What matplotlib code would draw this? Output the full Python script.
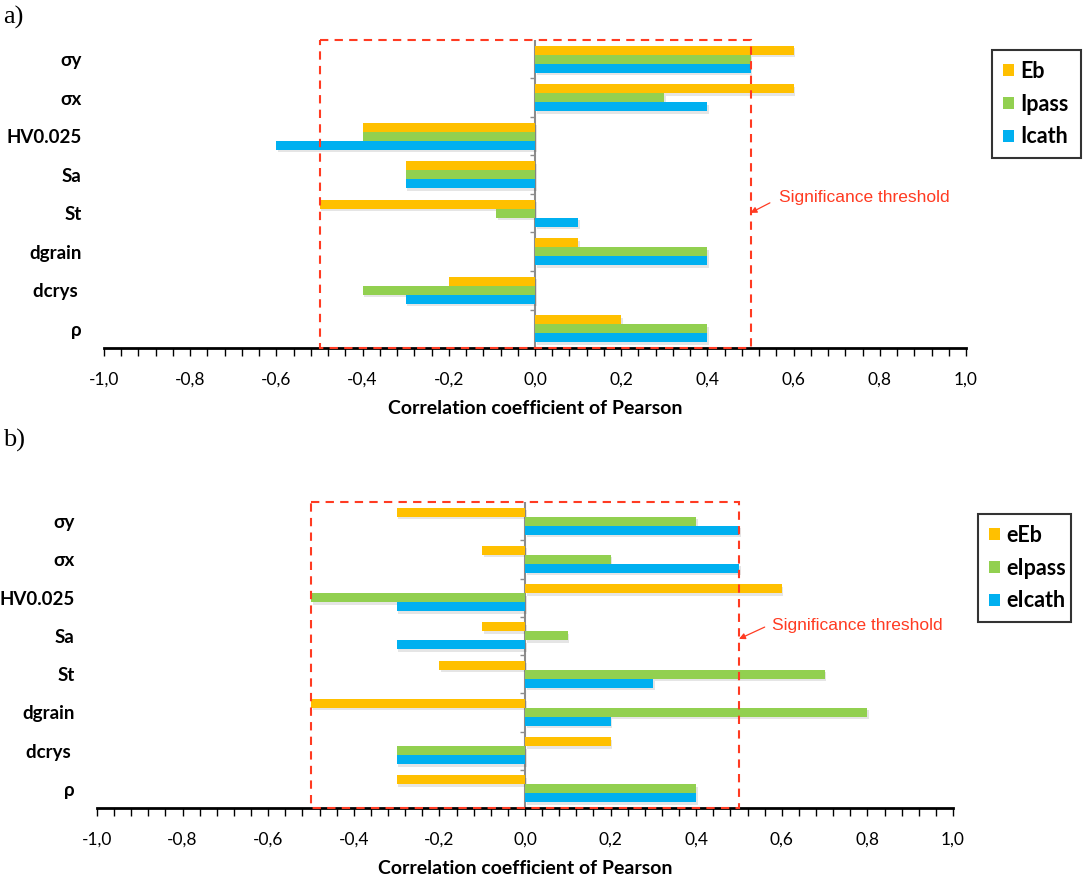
import numpy as np
import matplotlib
matplotlib.use("Agg")
import matplotlib.pyplot as plt
from matplotlib.patches import Rectangle, Patch
from matplotlib.ticker import MultipleLocator, FuncFormatter
import matplotlib.patheffects as pe

categories = ["σy", "σx", "HV0.025", "Sa", "St", "dgrain", "dcrys ", "ρ"]

# panel a)
eb = [0.6, 0.6, -0.4, -0.3, -0.5, 0.1, -0.2, 0.2]
ipass = [0.5, 0.3, -0.4, -0.3, -0.09, 0.4, -0.4, 0.4]
icath = [0.5, 0.4, -0.6, -0.3, 0.1, 0.4, -0.3, 0.4]
labels_a = ["Eb", "Ipass", "Icath"]

# panel b)
eeb = [-0.3, -0.1, 0.6, -0.1, -0.2, -0.5, 0.2, -0.3]
eipass = [0.4, 0.2, -0.5, 0.1, 0.7, 0.8, -0.3, 0.4]
eicath = [0.5, 0.5, -0.3, -0.3, 0.3, 0.2, -0.3, 0.4]
labels_b = ["eEb", "eIpass", "eIcath"]

threshold = 0.5
colors = ["#FFC000", "#92D050", "#00B0F0"]
red = "#FF3B22"

W, H = 1083, 883
fig = plt.figure(figsize=(W / 100, H / 100), dpi=100)


def px_axes(left, right, top, bottom):
    return fig.add_axes([left / W, 1 - bottom / H, (right - left) / W, (bottom - top) / H])


def draw_panel(ax, series, labels, legend_box, text_xy, tail_xy, tip_y):
    y = np.arange(len(categories))
    h = 0.235
    shadow = [pe.SimplePatchShadow(offset=(1.2, -1.8), alpha=0.15, shadow_rgbFace="#555555"),
              pe.Normal()]
    for i, (vals, col) in enumerate(zip(series, colors)):
        ax.barh(y + (i - 1) * h, vals, height=h, color=col,
                zorder=3, path_effects=shadow)

    ax.set_xlim(-1, 1)
    ax.set_ylim(len(categories) - 0.5, -0.5)
    ax.set_yticks(y)
    ax.set_yticklabels(categories, fontfamily="Lato", fontweight="bold", fontsize=13.5)
    ax.tick_params(axis="y", length=0, pad=16)

    ax.xaxis.set_major_locator(MultipleLocator(0.2))
    ax.xaxis.set_minor_locator(MultipleLocator(0.04))
    ax.xaxis.set_major_formatter(FuncFormatter(lambda v, p: f"{v:.1f}".replace(".", ",")))
    ax.tick_params(axis="x", which="both", direction="out", length=6, width=1,
                   color="black", pad=11, labelsize=12.5)
    for t in ax.get_xticklabels():
        t.set_fontfamily("Lato")
    ax.set_xlabel("Correlation coefficient of Pearson", fontfamily="Lato",
                  fontweight="bold", fontsize=14, labelpad=9)

    for s in ["top", "right", "left"]:
        ax.spines[s].set_visible(False)
    ax.spines["bottom"].set_linewidth(2)

    # category axis at zero with small ticks between groups
    ax.axvline(0, color="#8C8C8C", lw=1.5, zorder=2)
    ax.hlines(np.arange(len(categories) - 1) + 0.5, -0.012, 0, color="#8C8C8C", lw=1, zorder=2)

    # significance box
    ax.add_patch(Rectangle((-threshold, -0.5), 2 * threshold, len(categories),
                           fill=False, edgecolor=red, ls=(0, (4, 3)), lw=1.5,
                           zorder=5, clip_on=False))
    ax.text(text_xy[0], text_xy[1], "Significance threshold", color=red, fontsize=12.5,
            fontfamily="Liberation Sans", va="center", ha="left", zorder=6)
    ax.annotate("", xy=(threshold, tip_y), xytext=tail_xy,
                arrowprops=dict(arrowstyle="-|>", color=red, lw=0.9,
                                mutation_scale=9, shrinkA=0, shrinkB=0),
                zorder=6)

    handles = [Patch(facecolor=c, edgecolor="none") for c in colors]
    l, r, t, b = legend_box
    leg = fig.legend(handles, labels, loc="upper left",
                     bbox_to_anchor=(l / W, 1 - b / H, (r - l) / W, (b - t) / H),
                     mode="expand", frameon=True, fancybox=False, edgecolor="black",
                     prop=dict(family="Lato", weight="bold", size=15.5),
                     handlelength=0.5, handleheight=0.5, handletextpad=0.3,
                     labelspacing=0.55, borderpad=0.5, borderaxespad=0)
    leg.get_frame().set_linewidth(1.5)


ax1 = px_axes(104, 966, 40, 348)
draw_panel(ax1, [eb, ipass, icath], labels_a, (992, 1081, 50, 155),
           (0.566, 3.58), (0.545, 3.73), 3.99)

ax2 = px_axes(97, 953, 502, 808)
draw_panel(ax2, [eeb, eipass, eicath], labels_b, (978, 1071, 514, 618),
           (0.577, 2.72), (0.56, 2.77), 3.08)

fig.text(3 / W, 1 - 17 / H, "a)", fontfamily="Liberation Serif", fontsize=19, va="center")
fig.text(3 / W, 1 - 440 / H, "b)", fontfamily="Liberation Serif", fontsize=19, va="center")

fig.savefig("out.png", dpi=100)
